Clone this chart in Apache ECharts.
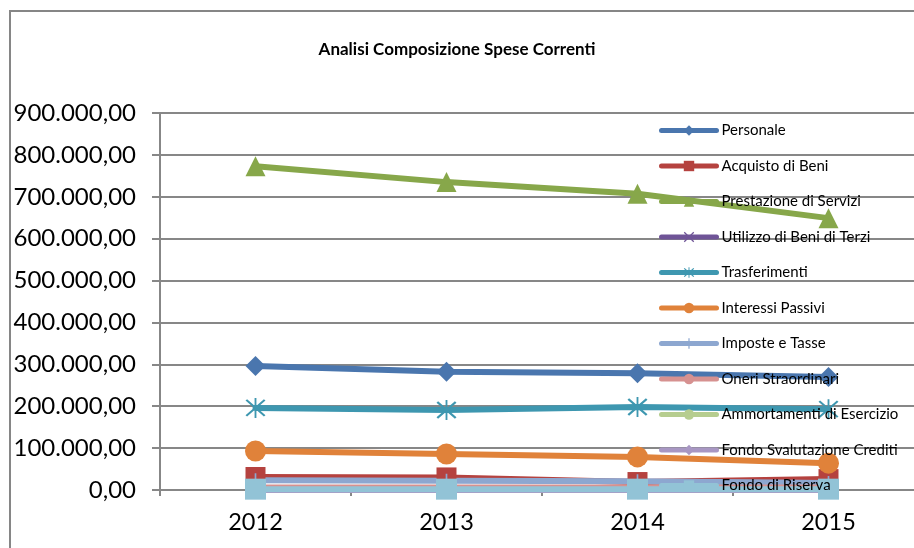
<!DOCTYPE html>
<html>
<head>
<meta charset="utf-8">
<script src="https://cdn.jsdelivr.net/npm/echarts@6/dist/echarts.min.js"></script>
<style>
html,body{margin:0;padding:0;background:#fff;}
#c{width:914px;height:548px;}
</style>
</head>
<body>
<div id="c"></div>
<script>
var titleText = 'Analisi Composizione Spese Correnti';
var years = ['2012', '2013', '2014', '2015'];
var yMin = 0, yMax = 900000, yStep = 100000;

var personale = [296000, 282000, 279000, 270000];
var acquistoBeni = [31000, 30000, 19000, 26000];
var prestazioneServizi = [773000, 735000, 707000, 649000];
var utilizzoBeniTerzi = [3000, 3000, 3000, 3000];
var trasferimenti = [196000, 191000, 198000, 193000];
var interessiPassivi = [93000, 86000, 79000, 64000];
var imposteTasse = [23000, 22000, 21000, 17000];
var oneriStraordinari = [6000, 6000, 6000, 6000];
var ammortamenti = [0, 0, 0, 0];
var fondoSvalutazione = [0, 0, 0, 0];
var fondoRiserva = [2000, 2000, 2000, 2000];

var seriesNames = ['Personale', 'Acquisto di Beni', 'Prestazione di Servizi', 'Utilizzo di Beni di Terzi',
  'Trasferimenti', 'Interessi Passivi', 'Imposte e Tasse', 'Oneri Straordinari',
  'Ammortamenti di Esercizio', 'Fondo Svalutazione Crediti', 'Fondo di Riserva'];
var seriesData = [personale, acquistoBeni, prestazioneServizi, utilizzoBeniTerzi, trasferimenti,
  interessiPassivi, imposteTasse, oneriStraordinari, ammortamenti, fondoSvalutazione, fondoRiserva];

var colors = ['#4A76AE', '#B5423F', '#87A74A', '#6F5497', '#3E97B0', '#E0823A',
  '#8DA7D0', '#D69190', '#B6CD8F', '#A897C3', '#92C3D6'];

var asterisk = 'path://M4.6,0H5.4V10H4.6Z M1.35,0.65L9.35,8.65L8.65,9.35L0.65,1.35Z M9.35,1.35L1.35,9.35L0.65,8.65L8.65,0.65Z';
var xMark = 'path://M1.2,0.4L9.6,8.8L8.8,9.6L0.4,1.2Z M9.6,1.2L1.2,9.6L0.4,8.8L8.8,0.4Z';
var plusMark = 'path://M4.4,0H5.6V4.4H10V5.6H5.6V10H4.4V5.6H0V4.4H4.4Z';
var symbols = ['diamond', 'rect', 'triangle', xMark, asterisk, 'circle', plusMark, 'none', 'none', 'diamond', 'rect'];
var sizes = [20, 20, 20, 14, 20, 21, 14, 0, 0, 14, 21];

function itFmt(v) {
  var s = Math.round(v).toString();
  var out = '';
  while (s.length > 3) { out = '.' + s.slice(-3) + out; s = s.slice(0, -3); }
  return s + out + ',00';
}

var series = seriesNames.map(function (n, i) {
  return {
    name: n,
    type: 'line',
    data: seriesData[i],
    symbol: symbols[i],
    symbolSize: sizes[i],
    showSymbol: symbols[i] !== 'none',
    lineStyle: { width: 6, color: colors[i], cap: 'round' },
    itemStyle: { color: colors[i] },
    emphasis: { disabled: true },
    z: 2
  };
});

var chart = echarts.init(document.getElementById('c'), null, { renderer: 'canvas' });
chart.setOption({
  animation: false,
  color: colors,
  textStyle: { fontFamily: 'Lato' },
  title: {
    text: titleText,
    left: 'center',
    top: 36,
    textStyle: { fontFamily: 'Lato', fontSize: 17, fontWeight: 'bold', color: '#000' }
  },
  graphic: [{
    type: 'rect',
    shape: { x: 10, y: 11, width: 1200, height: 1000 },
    style: { fill: 'none', stroke: '#868686', lineWidth: 2 },
    z: -1
  }],
  legend: {
    orient: 'vertical',
    left: 659,
    top: 123,
    width: 250,
    height: 420,
    z: 20,
    itemWidth: 55,
    itemHeight: 13,
    itemGap: 20.5,
    data: seriesNames,
    lineStyle: { width: 5, cap: 'round' },
    textStyle: { fontFamily: 'Lato', fontSize: 15, color: '#000', padding: [0, 0, 0, 0] },
    padding: 0
  },
  grid: { left: 160, width: 764, top: 113, bottom: 58, containLabel: false, outerBoundsMode: 'none' },
  xAxis: {
    type: 'category',
    data: years,
    boundaryGap: true,
    axisLine: { lineStyle: { color: '#878787', width: 2 } },
    axisTick: { show: true, length: 6, lineStyle: { color: '#878787', width: 2 } },
    axisLabel: { fontFamily: 'Lato', fontSize: 23.5, color: '#000', margin: 20 },
    splitLine: { show: false }
  },
  yAxis: {
    type: 'value',
    min: yMin,
    max: yMax,
    interval: yStep,
    axisLine: { show: true, lineStyle: { color: '#878787', width: 2 } },
    axisTick: { show: true, length: 8, lineStyle: { color: '#878787', width: 2 } },
    axisLabel: { fontFamily: 'Lato', fontSize: 24, color: '#000', margin: 24, formatter: itFmt },
    splitLine: { show: true, lineStyle: { color: '#878787', width: 2 } }
  },
  series: series
});
</script>
</body>
</html>
